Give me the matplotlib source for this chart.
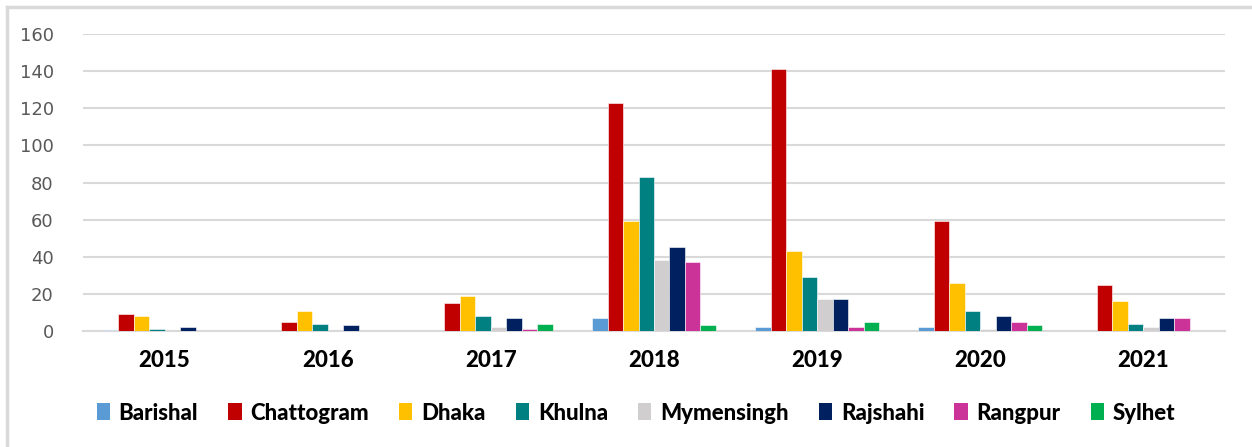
import matplotlib
matplotlib.use('Agg')
import matplotlib.pyplot as plt
from matplotlib.patches import Patch
import numpy as np

# data
years = ['2015', '2016', '2017', '2018', '2019', '2020', '2021']
divisions = ['Barishal', 'Chattogram', 'Dhaka', 'Khulna', 'Mymensingh', 'Rajshahi', 'Rangpur', 'Sylhet']
barishal = [0.5, 0, 0, 7, 2, 2, 0]
chattogram = [9, 5, 15, 123, 141, 59, 25]
dhaka = [8, 11, 19, 59, 43, 26, 16]
khulna = [1, 4, 8, 83, 29, 11, 4]
mymensingh = [0, 0, 2, 38, 17, 1, 2]
rajshahi = [2, 3, 7, 45, 17, 8, 7]
rangpur = [0, 0, 1, 37, 2, 5, 7]
sylhet = [0, 0, 4, 3, 5, 3, 0]
series = [barishal, chattogram, dhaka, khulna, mymensingh, rajshahi, rangpur, sylhet]
colors = ['#5B9BD5', '#C00000', '#FFC000', '#008080', '#D0CECE', '#002060', '#CC3399', '#00B050']

fig = plt.figure(figsize=(12.52, 4.47), dpi=100)
ax = fig.add_axes([83 / 1252, 116 / 447, (1225 - 83) / 1252, (331 - 34) / 447])

x = np.arange(len(years))
w = 0.095
n = len(series)
for i, (vals, c) in enumerate(zip(series, colors)):
    ax.bar(x + (i - (n - 1) / 2) * w, vals, w, color=c, edgecolor='white',
           linewidth=0.4, zorder=3)

ax.set_xlim(-0.5, len(years) - 0.5)
ax.set_ylim(0, 160)
ax.set_yticks(range(0, 161, 20))
ax.yaxis.grid(True, color='#D9D9D9', linewidth=1.5, zorder=0)
ax.set_axisbelow(True)
for s in ['top', 'right', 'left']:
    ax.spines[s].set_visible(False)
ax.spines['bottom'].set_color('#D9D9D9')
ax.spines['bottom'].set_linewidth(1.5)
ax.tick_params(axis='both', length=0)
ax.tick_params(axis='y', labelsize=13, labelcolor='#595959', pad=21)
ax.set_xticks(x)
ax.set_xticklabels(years, fontsize=16, fontweight='black', family='Lato')
ax.tick_params(axis='x', pad=14)

handles = [Patch(facecolor=c, label=d) for c, d in zip(colors, divisions)]
leg = fig.legend(handles=handles, loc='center', bbox_to_anchor=(0.508, (447 - 413) / 447),
                 ncol=8, frameon=False, handlelength=0.6, handleheight=0.8,
                 handletextpad=0.4, columnspacing=1.35,
                 prop={'family': 'Lato', 'weight': 'black', 'size': 16})

# light gray frame on left and top of the picture
fig.add_artist(plt.Line2D([6.5 / 1252, 6.5 / 1252], [0, 1 - 6.5 / 447], color='#D9D9D9', lw=2.5))
fig.add_artist(plt.Line2D([6.5 / 1252, 1], [1 - 6.5 / 447, 1 - 6.5 / 447], color='#D9D9D9', lw=2.5))

fig.savefig('out.png', dpi=100)
